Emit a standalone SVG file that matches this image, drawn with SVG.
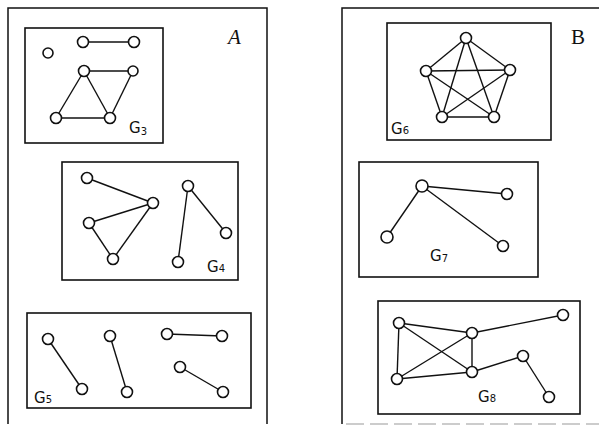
<svg xmlns="http://www.w3.org/2000/svg" width="599" height="425" viewBox="0 0 599 425">
<style>
.frame{fill:none;stroke:#111;stroke-width:1.5}
.box{fill:none;stroke:#111;stroke-width:1.6}
.e{stroke:#111;stroke-width:1.4;fill:none}
.n{fill:#fff;stroke:#111;stroke-width:1.6}
.lbl{font-family:"DejaVu Sans",sans-serif;font-size:15px;fill:#111}
.sub{font-size:10px}
.big{font-family:"Liberation Serif",serif;font-size:21px;fill:#111}
</style>
<rect width="599" height="425" fill="#fff"/>
<g id="panelA">
<path class="frame" d="M8,424 V8 H267 V424"/>
<text class="big" x="228" y="44" style="font-style:italic">A</text>
</g>
<g id="panelB">
<path class="frame" d="M342,424 V8 H599"/>
<path d="M346,424 H599" stroke="#999" stroke-width="1.2" stroke-dasharray="18,6"/>
<text class="big" x="571" y="44">B</text>
</g>
<g id="connectors">
<line class="e" x1="83" y1="42" x2="134" y2="42"/>
<line class="e" x1="84" y1="71" x2="133" y2="71"/>
<line class="e" x1="84" y1="71" x2="56" y2="118"/>
<line class="e" x1="84" y1="71" x2="110" y2="118"/>
<line class="e" x1="133" y1="71" x2="110" y2="118"/>
<line class="e" x1="56" y1="118" x2="110" y2="118"/>
<line class="e" x1="87" y1="178" x2="153" y2="203"/>
<line class="e" x1="89" y1="223" x2="153" y2="203"/>
<line class="e" x1="89" y1="223" x2="113" y2="259"/>
<line class="e" x1="113" y1="259" x2="153" y2="203"/>
<line class="e" x1="188" y1="186" x2="226" y2="233"/>
<line class="e" x1="188" y1="186" x2="178" y2="262"/>
<line class="e" x1="48" y1="339" x2="82" y2="389"/>
<line class="e" x1="110" y1="336" x2="127" y2="392"/>
<line class="e" x1="167" y1="334" x2="222" y2="336"/>
<line class="e" x1="180" y1="367" x2="223" y2="392"/>
<line class="e" x1="466" y1="38" x2="426" y2="71"/>
<line class="e" x1="466" y1="38" x2="510" y2="70"/>
<line class="e" x1="466" y1="38" x2="442" y2="117"/>
<line class="e" x1="466" y1="38" x2="494" y2="117"/>
<line class="e" x1="426" y1="71" x2="510" y2="70"/>
<line class="e" x1="426" y1="71" x2="442" y2="117"/>
<line class="e" x1="426" y1="71" x2="494" y2="117"/>
<line class="e" x1="510" y1="70" x2="442" y2="117"/>
<line class="e" x1="510" y1="70" x2="494" y2="117"/>
<line class="e" x1="442" y1="117" x2="494" y2="117"/>
<line class="e" x1="422" y1="186" x2="507" y2="194"/>
<line class="e" x1="422" y1="186" x2="387" y2="237"/>
<line class="e" x1="422" y1="186" x2="503" y2="246"/>
<line class="e" x1="399" y1="323" x2="472" y2="333"/>
<line class="e" x1="399" y1="323" x2="397" y2="379"/>
<line class="e" x1="399" y1="323" x2="472" y2="372"/>
<line class="e" x1="397" y1="379" x2="472" y2="333"/>
<line class="e" x1="397" y1="379" x2="472" y2="372"/>
<line class="e" x1="472" y1="333" x2="472" y2="372"/>
<line class="e" x1="472" y1="333" x2="563" y2="315"/>
<line class="e" x1="472" y1="372" x2="523" y2="356"/>
<line class="e" x1="523" y1="356" x2="549" y2="397"/>
</g>
<g id="G3">
<rect class="box" x="25" y="28" width="138" height="115"/>
<circle class="n" cx="48" cy="53" r="5"/>
<circle class="n" cx="83" cy="42" r="5.5"/>
<circle class="n" cx="134" cy="42" r="5.5"/>
<circle class="n" cx="84" cy="71" r="5.5"/>
<circle class="n" cx="133" cy="71" r="5"/>
<circle class="n" cx="56" cy="118" r="5.5"/>
<circle class="n" cx="110" cy="118" r="5.5"/>
<text class="lbl" x="129" y="133">G<tspan class="sub" dy="2">3</tspan></text>
</g>
<g id="G4">
<rect class="box" x="62" y="162" width="176" height="118"/>
<circle class="n" cx="87" cy="178" r="5.5"/>
<circle class="n" cx="153" cy="203" r="5.5"/>
<circle class="n" cx="89" cy="223" r="5.5"/>
<circle class="n" cx="113" cy="259" r="5.5"/>
<circle class="n" cx="188" cy="186" r="5.5"/>
<circle class="n" cx="226" cy="233" r="5.5"/>
<circle class="n" cx="178" cy="262" r="5.5"/>
<text class="lbl" x="207" y="272">G<tspan class="sub">4</tspan></text>
</g>
<g id="G5">
<rect class="box" x="27" y="313" width="224" height="95"/>
<circle class="n" cx="48" cy="339" r="5.5"/>
<circle class="n" cx="82" cy="389" r="5.5"/>
<circle class="n" cx="110" cy="336" r="5.5"/>
<circle class="n" cx="127" cy="392" r="5.5"/>
<circle class="n" cx="167" cy="334" r="5.5"/>
<circle class="n" cx="222" cy="336" r="5.5"/>
<circle class="n" cx="180" cy="367" r="5.5"/>
<circle class="n" cx="223" cy="392" r="5.5"/>
<text class="lbl" x="34" y="403">G<tspan class="sub">5</tspan></text>
</g>
<g id="G6">
<rect class="box" x="387" y="23" width="164" height="117"/>
<circle class="n" cx="466" cy="38" r="5.5"/>
<circle class="n" cx="426" cy="71" r="5.5"/>
<circle class="n" cx="510" cy="70" r="5.5"/>
<circle class="n" cx="442" cy="117" r="5.5"/>
<circle class="n" cx="494" cy="117" r="5.5"/>
<text class="lbl" x="391" y="134">G<tspan class="sub">6</tspan></text>
</g>
<g id="G7">
<rect class="box" x="359" y="162" width="179" height="115"/>
<circle class="n" cx="422" cy="186" r="6"/>
<circle class="n" cx="507" cy="194" r="5.5"/>
<circle class="n" cx="387" cy="237" r="6"/>
<circle class="n" cx="503" cy="246" r="5.5"/>
<text class="lbl" x="430" y="261">G<tspan class="sub" dy="1">7</tspan></text>
</g>
<g id="G8">
<rect class="box" x="378" y="301" width="202" height="113"/>
<circle class="n" cx="399" cy="323" r="5.5"/>
<circle class="n" cx="472" cy="333" r="5.5"/>
<circle class="n" cx="397" cy="379" r="5.5"/>
<circle class="n" cx="472" cy="372" r="5.5"/>
<circle class="n" cx="563" cy="315" r="5.5"/>
<circle class="n" cx="523" cy="356" r="5.5"/>
<circle class="n" cx="549" cy="397" r="5.5"/>
<text class="lbl" x="478" y="402">G<tspan class="sub">8</tspan></text>
</g>
</svg>
